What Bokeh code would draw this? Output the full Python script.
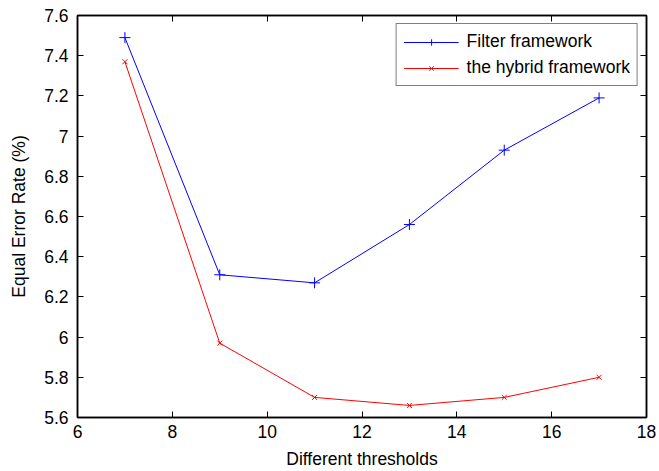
from bokeh.plotting import figure
from bokeh.models import LinearAxis, FixedTicker, Range1d, Legend, LegendItem
from bokeh.embed import file_html
from bokeh.resources import INLINE

thresholds = [7, 9, 11, 13, 15, 17]
filter_eer = [7.49, 6.31, 6.27, 6.56, 6.93, 7.19]
hybrid_eer = [7.37, 5.97, 5.70, 5.66, 5.70, 5.80]

x_ticks = [6, 8, 10, 12, 14, 16, 18]
y_ticks = [5.6, 5.8, 6.0, 6.2, 6.4, 6.6, 6.8, 7.0, 7.2, 7.4, 7.6]
y_tick_labels = ["5.6", "5.8", "6", "6.2", "6.4", "6.6", "6.8", "7", "7.2", "7.4", "7.6"]

FONT = "Liberation Sans"
FS = "17.5px"

p = figure(width=659, height=471, output_backend="svg", toolbar_location=None,
           x_range=Range1d(6, 18), y_range=Range1d(5.6, 7.6),
           x_axis_location=None, y_axis_location=None,
           min_border_left=77, min_border_right=13, min_border_top=15, min_border_bottom=54)
p.xgrid.visible = False
p.ygrid.visible = False
p.outline_line_color = "black"
p.outline_line_width = 1.5
p.background_fill_color = "white"
p.border_fill_color = "white"

def style_axis(ax, labels=True):
    ax.axis_line_color = "black"
    ax.axis_line_width = 1.5
    ax.major_tick_in = 6
    ax.major_tick_out = 0
    ax.minor_tick_line_color = None
    ax.major_tick_line_color = "black"
    ax.major_tick_line_width = 1
    ax.major_label_text_font = FONT
    ax.major_label_text_color = "black"
    ax.axis_label_text_font = FONT
    ax.axis_label_text_font_style = "normal"
    ax.axis_label_text_color = "black"
    if labels:
        ax.major_label_text_font_size = FS
        ax.axis_label_text_font_size = FS
    else:
        ax.major_label_text_font_size = "1px"
        ax.major_label_text_color = None
        ax.major_label_standoff = 0

xb = LinearAxis(ticker=FixedTicker(ticks=x_ticks), axis_label="Different thresholds")
style_axis(xb)
xb.major_label_standoff = 7
xb.axis_label_standoff = 8
p.add_layout(xb, "below")

yl = LinearAxis(ticker=FixedTicker(ticks=y_ticks), axis_label="Equal Error Rate (%)")
style_axis(yl)
yl.major_label_overrides = {t: s for t, s in zip(y_ticks, y_tick_labels)}
yl.major_label_standoff = 9
yl.axis_label_standoff = 12
p.add_layout(yl, "left")

xt = LinearAxis(ticker=FixedTicker(ticks=x_ticks))
style_axis(xt, labels=False)
p.add_layout(xt, "above")

yr = LinearAxis(ticker=FixedTicker(ticks=y_ticks))
style_axis(yr, labels=False)
p.add_layout(yr, "right")

l1 = p.line(thresholds, filter_eer, line_color="#0000ff", line_width=1)
m1 = p.scatter(thresholds, filter_eer, marker="cross", size=11, line_color="#0000ff", line_width=1)
l2 = p.line(thresholds, hybrid_eer, line_color="#ff0000", line_width=1)
m2 = p.scatter(thresholds, hybrid_eer, marker="x", size=7, line_color="#ff0000", line_width=1)

legend = Legend(items=[LegendItem(label="Filter framework", renderers=[l1, m1]),
                       LegendItem(label="the hybrid framework", renderers=[l2, m2])],
                location="top_right")
legend.label_text_font = FONT
legend.label_text_font_size = FS
legend.label_text_color = "black"
legend.border_line_color = "black"
legend.border_line_width = 1.5
legend.background_fill_alpha = 1
legend.glyph_width = 55
legend.glyph_height = 16
legend.label_height = 16
legend.spacing = 5
legend.padding = 7
legend.margin = 8
legend.label_standoff = 8
p.add_layout(legend)

open("out.html", "w").write(file_html(p, INLINE))
